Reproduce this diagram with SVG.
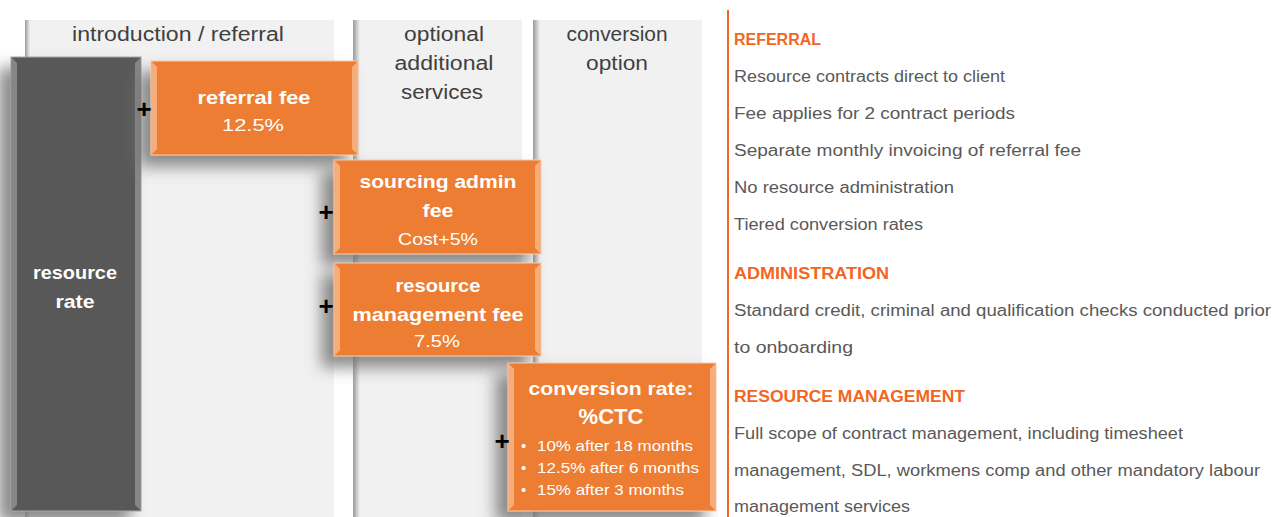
<svg xmlns="http://www.w3.org/2000/svg" width="1274" height="517" viewBox="0 0 1274 517">
  <style>
    .col { fill: #f1f1f1; }
    .colhead { font-family: "Liberation Sans", Arial, sans-serif; font-size: 20px; fill: #404040; text-anchor: middle; }
    .box { fill: #ED7D31; stroke: #F8CBAD; stroke-width: 1; }
    .dark { fill: #595959; stroke: #a6a6a6; stroke-width: 1; }
    .bev { fill: #F6B58A; opacity: 0.85; }
    .bevd { fill: #8c8c8c; opacity: 0.9; }
    .btitle { font-family: "Liberation Sans", Arial, sans-serif; font-size: 19px; font-weight: bold; fill: #ffffff; text-anchor: middle; }
    .bsub { font-family: "Liberation Sans", Arial, sans-serif; font-size: 17px; fill: #ffffff; text-anchor: middle; }
    .bullet { font-family: "Liberation Sans", Arial, sans-serif; font-size: 15px; fill: #ffffff; }
    .plus { font-family: "Liberation Sans", Arial, sans-serif; font-size: 26px; font-weight: bold; fill: #000000; text-anchor: middle; }
    .h { font-family: "Liberation Sans", Arial, sans-serif; font-size: 16px; font-weight: bold; fill: #F26522; }
    .t { font-family: "Liberation Sans", Arial, sans-serif; font-size: 16px; fill: #595959; }
  </style>
  <defs>
    <filter id="sh" x="-40%" y="-30%" width="170%" height="160%">
      <feDropShadow dx="-12" dy="11" stdDeviation="8" flood-color="#767676" flood-opacity="0.85"/>
    </filter>
    <linearGradient id="colEdge" x1="0" y1="0" x2="1" y2="0">
      <stop offset="0" stop-color="#9a9a9a"/>
      <stop offset="1" stop-color="#f1f1f1"/>
    </linearGradient>
  </defs>

  <rect width="1274" height="517" fill="#ffffff"/>

  <!-- columns -->
  <g id="columns">
    <rect class="col" x="25" y="20" width="309" height="497"/>
    <rect x="25" y="20" width="5" height="497" fill="url(#colEdge)"/>
    <rect class="col" x="353" y="20" width="169" height="497"/>
    <rect x="353" y="20" width="7" height="497" fill="url(#colEdge)"/>
    <rect class="col" x="533" y="20" width="169" height="497"/>
    <rect x="533" y="20" width="7" height="497" fill="url(#colEdge)"/>
    <text class="colhead" x="178" y="41" textLength="212" lengthAdjust="spacingAndGlyphs">introduction / referral</text>
    <text class="colhead" x="444" y="41" textLength="80" lengthAdjust="spacingAndGlyphs">optional</text>
    <text class="colhead" x="444" y="70" textLength="99" lengthAdjust="spacingAndGlyphs">additional</text>
    <text class="colhead" x="442" y="99" textLength="82" lengthAdjust="spacingAndGlyphs">services</text>
    <text class="colhead" x="617" y="41" textLength="101" lengthAdjust="spacingAndGlyphs">conversion</text>
    <text class="colhead" x="617" y="70" textLength="62" lengthAdjust="spacingAndGlyphs">option</text>
  </g>

  <!-- resource rate -->
  <g id="resource-rate">
    <rect class="dark" x="11" y="57" width="130" height="454" filter="url(#sh)"/>
    <polygon class="bevd" points="11,57 17,63 17,505 11,511"/>
    <polygon class="bevd" points="141,57 135,63 135,505 141,511"/>
    <text class="btitle" x="75" y="279" textLength="84" lengthAdjust="spacingAndGlyphs">resource</text>
    <text class="btitle" x="75" y="308" textLength="39" lengthAdjust="spacingAndGlyphs">rate</text>
  </g>

  <!-- referral fee -->
  <g id="referral-fee">
    <rect class="box" x="151" y="61" width="207" height="94" filter="url(#sh)"/>
    <polygon class="bev" points="151,61 157,67 157,149 151,155"/>
    <polygon class="bev" points="358,61 352,67 352,149 358,155"/>
    <text class="btitle" x="254" y="104" textLength="113" lengthAdjust="spacingAndGlyphs">referral fee</text>
    <text class="bsub" x="253" y="131" textLength="62" lengthAdjust="spacingAndGlyphs">12.5%</text>
  </g>

  <!-- sourcing admin fee -->
  <g id="sourcing-admin-fee">
    <rect class="box" x="334" y="160" width="207" height="94" filter="url(#sh)"/>
    <polygon class="bev" points="334,160 340,166 340,248 334,254"/>
    <polygon class="bev" points="541,160 535,166 535,248 541,254"/>
    <text class="btitle" x="438" y="188" textLength="157" lengthAdjust="spacingAndGlyphs">sourcing admin</text>
    <text class="btitle" x="438" y="217" textLength="31" lengthAdjust="spacingAndGlyphs">fee</text>
    <text class="bsub" x="438" y="245" textLength="80" lengthAdjust="spacingAndGlyphs">Cost+5%</text>
  </g>

  <!-- resource management fee -->
  <g id="resource-management-fee">
    <rect class="box" x="334" y="263" width="207" height="93" filter="url(#sh)"/>
    <polygon class="bev" points="334,263 340,269 340,350 334,356"/>
    <polygon class="bev" points="541,263 535,269 535,350 541,356"/>
    <text class="btitle" x="438" y="292" textLength="85" lengthAdjust="spacingAndGlyphs">resource</text>
    <text class="btitle" x="438" y="321" textLength="171" lengthAdjust="spacingAndGlyphs">management fee</text>
    <text class="bsub" x="437" y="347" textLength="46" lengthAdjust="spacingAndGlyphs">7.5%</text>
  </g>

  <!-- conversion rate -->
  <g id="conversion-rate">
    <rect class="box" x="508" y="363" width="208" height="148" filter="url(#sh)"/>
    <polygon class="bev" points="508,363 514,369 514,505 508,511"/>
    <polygon class="bev" points="716,363 710,369 710,505 716,511"/>
    <text class="btitle" x="611" y="395" textLength="165" lengthAdjust="spacingAndGlyphs">conversion rate:</text>
    <text class="btitle" x="611" y="424" style="font-size:22px">%CTC</text>
    <text class="bullet" x="521" y="451">•</text>
    <text class="bullet" x="537" y="451" textLength="156" lengthAdjust="spacingAndGlyphs">10% after 18 months</text>
    <text class="bullet" x="521" y="473">•</text>
    <text class="bullet" x="537" y="473" textLength="162" lengthAdjust="spacingAndGlyphs">12.5% after 6 months</text>
    <text class="bullet" x="521" y="495">•</text>
    <text class="bullet" x="537" y="495" textLength="147" lengthAdjust="spacingAndGlyphs">15% after 3 months</text>
  </g>

  <!-- connectors (plus operators) -->
  <g id="connectors">
    <text class="plus" x="144" y="118">+</text>
    <text class="plus" x="326" y="221">+</text>
    <text class="plus" x="326" y="315">+</text>
    <text class="plus" x="502" y="450">+</text>
  </g>

  <!-- legend panel -->
  <g id="legend">
    <line x1="728" y1="10" x2="728" y2="517" stroke="#F26522" stroke-width="2"/>
    <text class="h" x="734" y="45" textLength="87" lengthAdjust="spacingAndGlyphs">REFERRAL</text>
    <text class="t" x="734" y="82" textLength="271" lengthAdjust="spacingAndGlyphs">Resource contracts direct to client</text>
    <text class="t" x="734" y="119" textLength="281" lengthAdjust="spacingAndGlyphs">Fee applies for 2 contract periods</text>
    <text class="t" x="734" y="156" textLength="347" lengthAdjust="spacingAndGlyphs">Separate monthly invoicing of referral fee</text>
    <text class="t" x="734" y="193" textLength="220" lengthAdjust="spacingAndGlyphs">No resource administration</text>
    <text class="t" x="734" y="230" textLength="189" lengthAdjust="spacingAndGlyphs">Tiered conversion rates</text>
    <text class="h" x="734" y="279" textLength="155" lengthAdjust="spacingAndGlyphs">ADMINISTRATION</text>
    <text class="t" x="734" y="316" textLength="537" lengthAdjust="spacingAndGlyphs">Standard credit, criminal and qualification checks conducted prior</text>
    <text class="t" x="734" y="353" textLength="119" lengthAdjust="spacingAndGlyphs">to onboarding</text>
    <text class="h" x="734" y="402" textLength="231" lengthAdjust="spacingAndGlyphs">RESOURCE MANAGEMENT</text>
    <text class="t" x="734" y="439" textLength="449" lengthAdjust="spacingAndGlyphs">Full scope of contract management, including timesheet</text>
    <text class="t" x="734" y="476" textLength="526" lengthAdjust="spacingAndGlyphs">management, SDL, workmens comp and other mandatory labour</text>
    <text class="t" x="734" y="512" textLength="176" lengthAdjust="spacingAndGlyphs">management services</text>
  </g>
</svg>
